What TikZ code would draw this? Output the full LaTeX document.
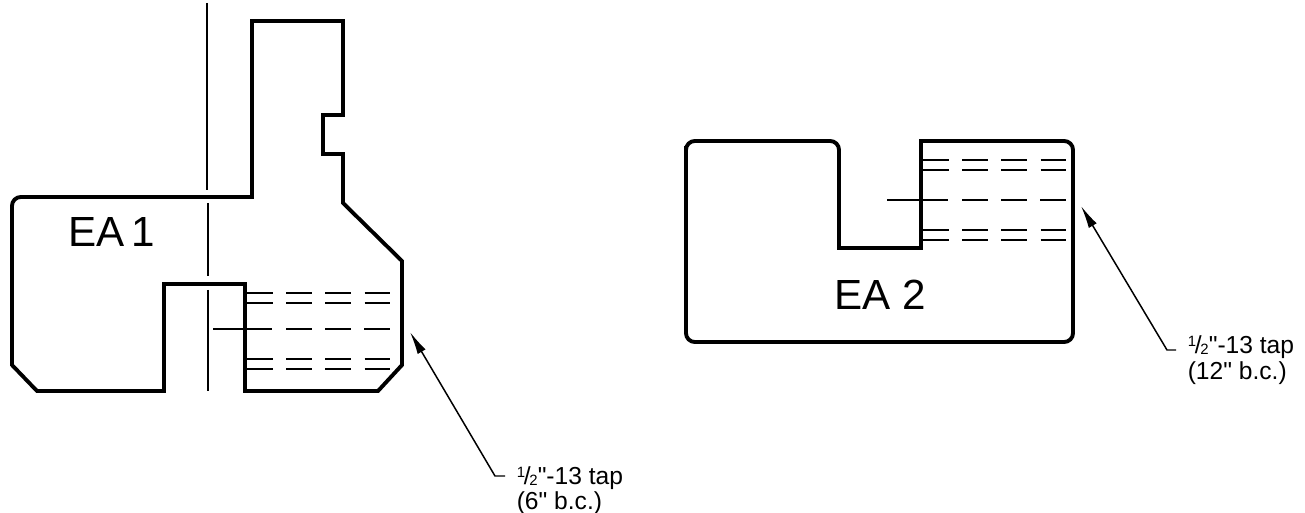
\documentclass[tikz,border=0pt]{standalone}
\usepackage{fontspec}
\setmainfont[Ligatures=TeXOff]{Liberation Sans}
\usetikzlibrary{arrows.meta}
\newcommand{\halfinch}{\raisebox{.55ex}{\fontsize{8.5}{9}\selectfont 1}\kern-.05em/\kern-.05em\raisebox{-.1ex}{\fontsize{8.5}{9}\selectfont 2}}
\tikzset{
    outline/.style={line width=2.2pt, line join=miter},
    thinline/.style={line width=0.7pt},
    tapline/.style={line width=0.8pt, dash pattern=on 14.7pt off 7.6pt},
    leader/.style={line width=0.85pt, -{Latex[length=13pt,width=5.2pt]}},
    partlabel/.style={font=\fontsize{24}{30}\selectfont, inner sep=0pt},
    taplabel/.style={font=\fontsize{14}{16}\selectfont, anchor=west, inner xsep=6.5pt, inner ysep=0pt},
    }

\begin{document}
\begin{tikzpicture}[x=0.02cm, y=-0.02cm]
\useasboundingbox (0,0) rectangle (1305,513);

% EA 1
\draw[outline] (37,391) -- (12,365) [rounded corners=5pt] -- (12,197) [sharp corners] -- (252,197) -- (252,21)
  -- (343,21) -- (343,115) -- (323,115) -- (323,154) -- (343,154) -- (343,203) -- (402,261) -- (402,365)
  -- (378,391) -- (245,391) -- (245,284) -- (164,284) -- (164,391) -- cycle;
\draw[thinline] (207,3) -- (207,190);
\draw[thinline] (208,203) -- (208,276);
\draw[thinline] (208,290) -- (208,391);
\draw[thinline] (213,329) -- (272,329);
\foreach \y in {293,303,359,369}
  \draw[tapline] (247,\y) -- (391,\y);
\draw[tapline] (286,329) -- (391,329);
\node[partlabel] (eaone) at (112,232) {EA\hspace{-.12em} 1};

% EA 2
\draw[outline] (686,155) [rounded corners=5pt] -- (686,141) -- (839,141) [sharp corners] -- (839,248) -- (921,248)
  -- (921,141) [rounded corners=5pt] -- (1073,141) -- (1073,342) -- (686,342) -- cycle;
\draw[thinline] (887,200) -- (948,200);
\foreach \y in {160,170,230,240}
  \draw[tapline] (923,\y) -- (1067,\y);
\draw[tapline] (962,200) -- (1067,200);
\node[partlabel] (eatwo) at (880,295) {EA 2};

% tap callouts
\node[taplabel] (tapone) at (505,478) {\halfinch"-13 tap};
\node[taplabel] (tapbcone) at (505,503) {(6" b.c.)};
\coordinate (stubone) at (505,476);
\coordinate (bendone) at (495,476);
\coordinate (tipone) at (410,332);
\draw[leader] (stubone) -- (bendone) -- (tipone);

\node[taplabel] (taptwo) at (1176,347) {\halfinch"-13 tap};
\node[taplabel] (tapbctwo) at (1176,373) {(12" b.c.)};
\coordinate (stubtwo) at (1176,350);
\coordinate (bendtwo) at (1167,350);
\coordinate (tiptwo) at (1081,206);
\draw[leader] (stubtwo) -- (bendtwo) -- (tiptwo);
\end{tikzpicture}
\end{document}
